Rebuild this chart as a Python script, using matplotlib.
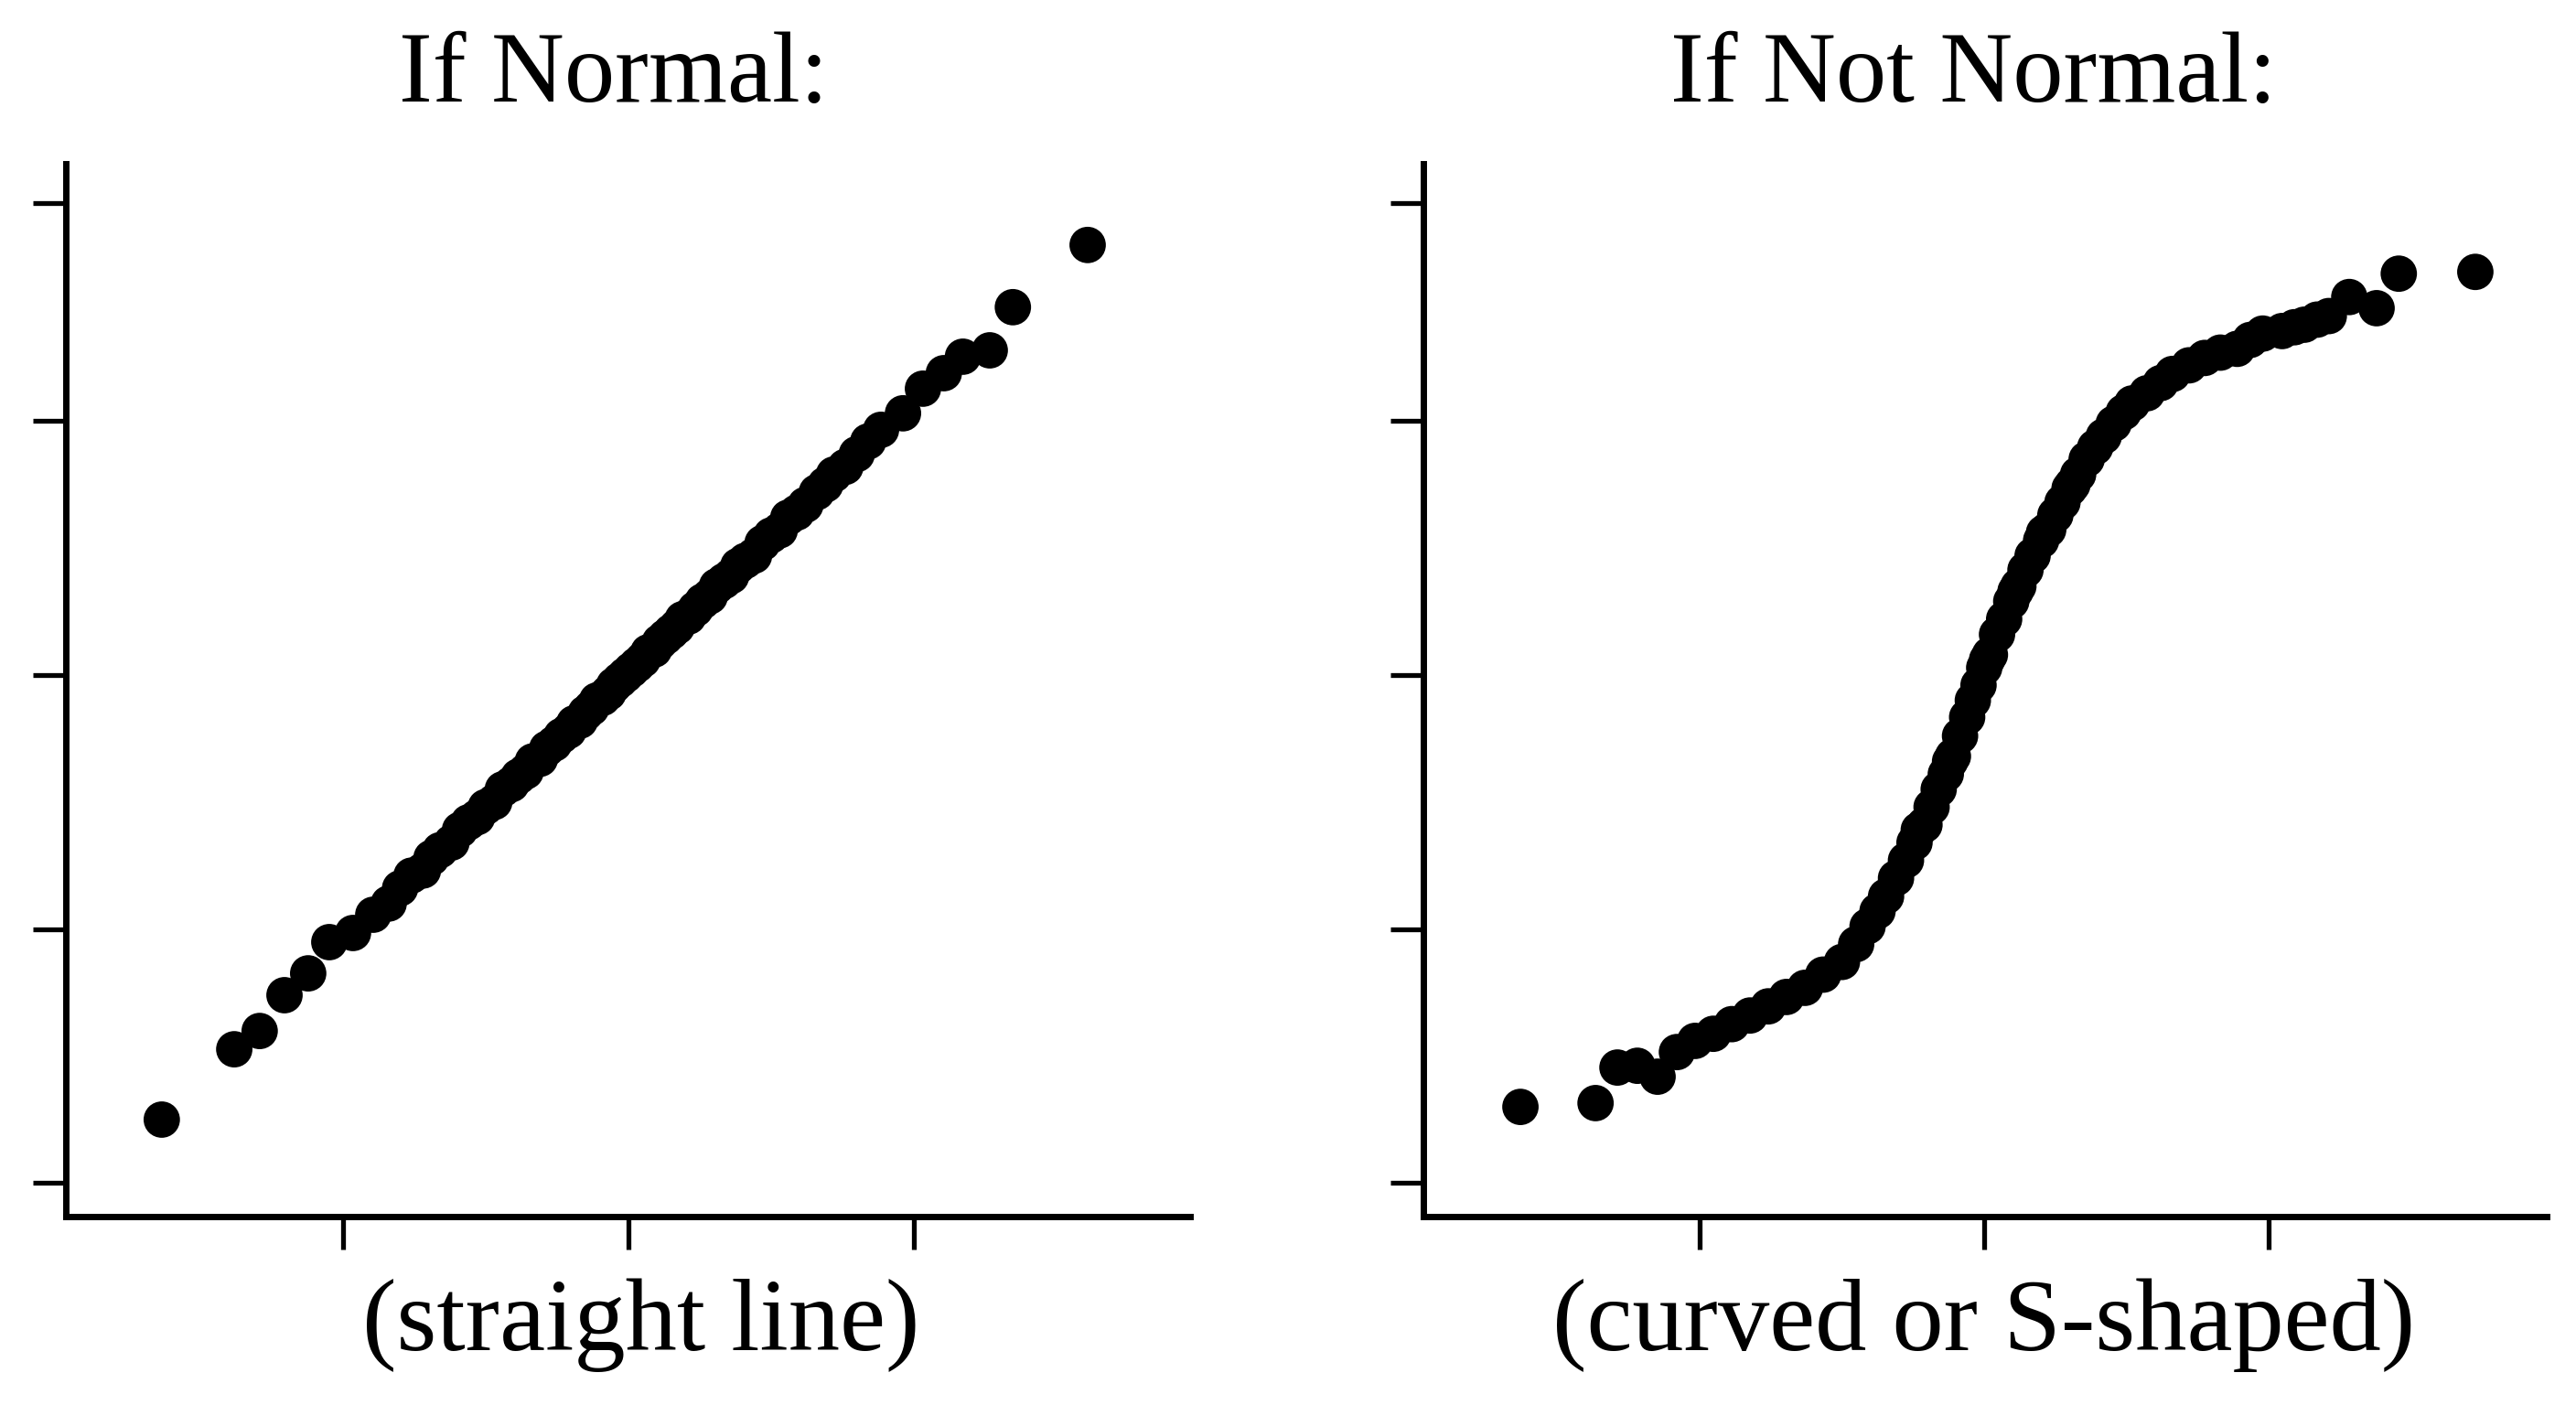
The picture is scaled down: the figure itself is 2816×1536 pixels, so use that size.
import matplotlib
matplotlib.use("Agg")
import matplotlib.pyplot as plt

# ---------------- data ----------------
normal_x = [-1.635, -1.381, -1.292, -1.205, -1.122, -1.048, -0.965, -0.894,
            -0.84, -0.80, -0.76, -0.72, -0.69, -0.66, -0.62, -0.59, -0.56, -0.53,
            -0.50, -0.47, -0.44, -0.41, -0.385, -0.36, -0.335, -0.31, -0.285,
            -0.26, -0.235, -0.21, -0.19, -0.17, -0.15, -0.13, -0.11, -0.09,
            -0.07, -0.05, -0.03, -0.01, 0.01, 0.03, 0.05, 0.07, 0.09, 0.11,
            0.13, 0.15, 0.17, 0.19, 0.21, 0.235, 0.26, 0.285, 0.31, 0.335,
            0.36, 0.385, 0.41, 0.44, 0.47, 0.50, 0.53, 0.56, 0.59, 0.62, 0.66,
            0.69, 0.72, 0.76, 0.80, 0.84, 0.885, 0.962, 1.032, 1.105, 1.172,
            1.266, 1.347, 1.609]
normal_y = [-1.751, -1.474, -1.402, -1.261, -1.175, -1.052, -1.016, -0.944,
            -0.90, -0.84, -0.79, -0.77, -0.72, -0.69, -0.66, -0.61, -0.58, -0.56,
            -0.52, -0.50, -0.45, -0.43, -0.40, -0.38, -0.34, -0.33, -0.29,
            -0.27, -0.24, -0.22, -0.19, -0.18, -0.15, -0.13, -0.10, -0.09,
            -0.07, -0.04, -0.02, 0.00, 0.02, 0.04, 0.06, 0.09, 0.10, 0.13,
            0.15, 0.17, 0.19, 0.22, 0.23, 0.26, 0.29, 0.31, 0.35, 0.37,
            0.39, 0.43, 0.45, 0.47, 0.52, 0.55, 0.57, 0.62, 0.64, 0.67, 0.72,
            0.75, 0.79, 0.82, 0.87, 0.92, 0.966, 1.031, 1.128, 1.189, 1.254,
            1.279, 1.449, 1.694]

skewed_x = [-1.630, -1.366, -1.289, -1.219, -1.148, -1.080, -1.016, -0.952,
            -0.887, -0.823, -0.759, -0.695, -0.630, -0.566, -0.50, -0.45,
            -0.41, -0.375, -0.345, -0.31, -0.275, -0.245, -0.23, -0.21, -0.185,
            -0.16, -0.135, -0.12, -0.11, -0.085, -0.06, -0.04, -0.02, 0.0,
            0.01, 0.02, 0.045, 0.07, 0.095, 0.11, 0.12, 0.145, 0.17, 0.20,
            0.21, 0.225, 0.25, 0.275, 0.30, 0.31, 0.33, 0.36, 0.39, 0.42,
            0.455, 0.49, 0.52, 0.572, 0.62, 0.662, 0.72, 0.775, 0.83, 0.889,
            0.935, 0.979, 1.047, 1.09, 1.125, 1.17, 1.211, 1.283, 1.379, 1.457,
            1.726]
skewed_y = [-1.701, -1.686, -1.546, -1.539, -1.582, -1.485, -1.441, -1.413,
            -1.375, -1.341, -1.305, -1.268, -1.232, -1.180, -1.130, -1.06,
            -0.99, -0.93, -0.872, -0.80, -0.73, -0.66, -0.61, -0.59, -0.52,
            -0.45, -0.39, -0.34, -0.32, -0.24, -0.166, -0.10, -0.04, 0.029,
            0.06, 0.08, 0.16, 0.22, 0.29, 0.33, 0.35, 0.414, 0.47, 0.53,
            0.56, 0.573, 0.63, 0.68, 0.735, 0.75, 0.79, 0.85, 0.897, 0.94,
            0.99, 1.035, 1.07, 1.110, 1.15, 1.186, 1.22, 1.249, 1.27, 1.285,
            1.32, 1.345, 1.355, 1.37, 1.38, 1.40, 1.414, 1.489, 1.445, 1.581,
            1.588]

x_ticks = [-1, 0, 1]
y_ticks = [-2, -1, 0, 1, 1.86]
titles = ["If Normal:", "If Not Normal:"]
xlabels = ["(straight line)", "(curved or S-shaped)"]

# ---------------- figure ----------------
plt.rcParams['font.family'] = ['Liberation Serif', 'DejaVu Serif']
fig = plt.figure(figsize=(14.08, 7.68), dpi=200)
fig.patch.set_facecolor("white")

positions = [[0.02557, 0.13411, 0.43643, 0.74935],
             [0.55256, 0.13411, 0.43608, 0.74935]]
xlims = [(-1.971, 1.968), (-1.971, 1.977)]
series = [(normal_x, normal_y), (skewed_x, skewed_y)]
title_x = [0.2383, 0.766]
label_x = [0.2487, 0.770]

for i in range(2):
    ax = fig.add_axes(positions[i])
    ax.set_facecolor("white")
    xs, ys = series[i]
    ax.scatter(xs, ys, s=205, color="black", edgecolors="none", zorder=3)
    ax.set_xlim(*xlims[i])
    ax.set_ylim(-2.133, 2.014)
    ax.set_xticks(x_ticks)
    ax.set_yticks(y_ticks)
    ax.set_xticklabels([])
    ax.set_yticklabels([])
    for side in ["top", "right"]:
        ax.spines[side].set_visible(False)
    for side in ["left", "bottom"]:
        ax.spines[side].set_linewidth(2.5)
        ax.spines[side].set_color("black")
    ax.tick_params(direction="out", length=12.8, width=1.9, color="black")
    fig.text(title_x[i], 1 - 111 / 1536, titles[i], ha="center", va="baseline",
             fontsize=39.8, color="black")
    fig.text(label_x[i], 1 - 1476 / 1536, xlabels[i], ha="center", va="baseline",
             fontsize=40.5, color="black")

fig.savefig("out.png", dpi=200, facecolor="white")
